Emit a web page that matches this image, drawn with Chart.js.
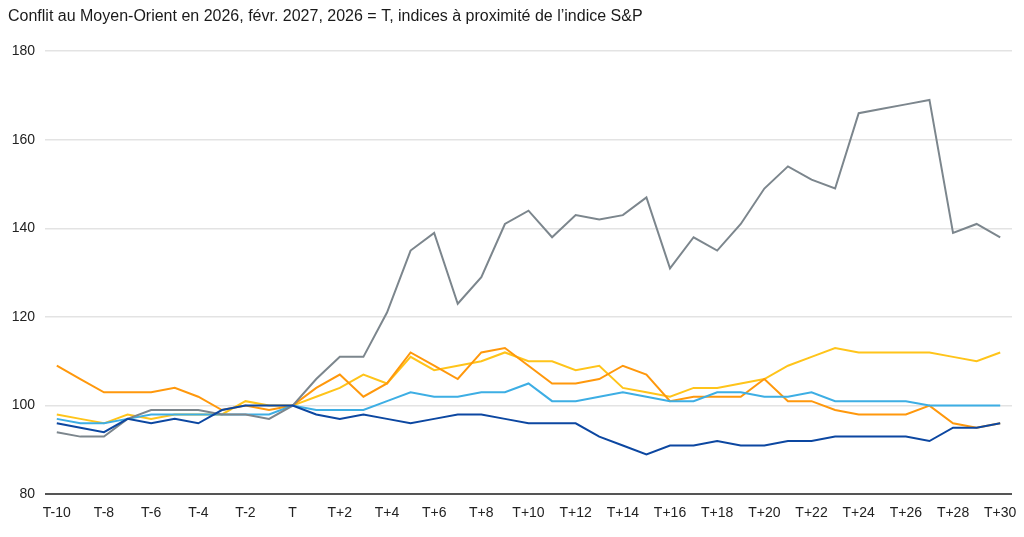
<!DOCTYPE html>
<html>
<head>
<meta charset="utf-8">
<script src="https://cdn.jsdelivr.net/npm/chart.js@4/dist/chart.umd.min.js"></script>
<style>
	html, body { margin: 0; padding: 0; background: #fff; }
	#wrap { width: 1024px; height: 537px; }
</style>
</head>
<body>
<div id="wrap"><canvas id="myChart" width="1024" height="537"></canvas></div>
<script>
var titleText = 'Conflit au Moyen-Orient en 2026, févr. 2027, 2026 = T, indices à proximité de l’indice S&P';

var labels = ['T-10', 'T-9', 'T-8', 'T-7', 'T-6', 'T-5', 'T-4', 'T-3', 'T-2', 'T-1', 'T',
	'T+1', 'T+2', 'T+3', 'T+4', 'T+5', 'T+6', 'T+7', 'T+8', 'T+9', 'T+10',
	'T+11', 'T+12', 'T+13', 'T+14', 'T+15', 'T+16', 'T+17', 'T+18', 'T+19', 'T+20',
	'T+21', 'T+22', 'T+23', 'T+24', 'T+25', 'T+26', 'T+27', 'T+28', 'T+29', 'T+30'];

var grayVals = [94, 93, 93, 97, 99, 99, 99, 98, 98, 97, 100,
	106, 111, 111, 121, 135, 139, 123, 129, 141, 144,
	138, 143, 142, 143, 147, 131, 138, 135, 141, 149,
	154, 151, 149, 166, 167, 168, 169, 139, 141, 138];

var darkBlueVals = [96, 95, 94, 97, 96, 97, 96, 99, 100, 100, 100,
	98, 97, 98, 97, 96, 97, 98, 98, 97, 96,
	96, 96, 93, 91, 89, 91, 91, 92, 91, 91,
	92, 92, 93, 93, 93, 93, 92, 95, 95, 96];

var lightBlueVals = [97, 96, 96, 97, 98, 98, 98, 98, 98, 98, 100,
	99, 99, 99, 101, 103, 102, 102, 103, 103, 105,
	101, 101, 102, 103, 102, 101, 101, 103, 103, 102,
	102, 103, 101, 101, 101, 101, 100, 100, 100, 100];

var orangeVals = [109, 106, 103, 103, 103, 104, 102, 99, 100, 99, 100,
	104, 107, 102, 105, 112, 109, 106, 112, 113, 109,
	105, 105, 106, 109, 107, 101, 102, 102, 102, 106,
	101, 101, 99, 98, 98, 98, 100, 96, 95, 96];

var yellowVals = [98, 97, 96, 98, 97, 98, 98, 98, 101, 100, 100,
	102, 104, 107, 105, 111, 108, 109, 110, 112, 110,
	110, 108, 109, 104, 103, 102, 104, 104, 105, 106,
	109, 111, 113, 112, 112, 112, 112, 111, 110, 112];

var yTicks = [80, 100, 120, 140, 160, 180];

function line(data, color) {
	return {
		data: data,
		borderColor: color,
		backgroundColor: color,
		borderWidth: 2,
		pointRadius: 0,
		tension: 0,
		fill: false
	};
}

Chart.defaults.font.family = '"Liberation Sans", Arial, sans-serif';
Chart.defaults.color = '#222';

var myChart = new Chart(document.getElementById('myChart'), {
	type: 'line',
	data: {
		labels: labels,
		// first dataset is drawn on top
		datasets: [
			line(darkBlueVals, '#0c47a1'),
			line(grayVals, '#7c868d'),
			line(lightBlueVals, '#3daee4'),
			line(orangeVals, '#ff980c'),
			line(yellowVals, '#ffc41a')
		]
	},
	options: {
		responsive: false,
		animation: false,
		layout: { padding: { left: 8, right: 12, top: 7, bottom: 4 } },
		plugins: {
			legend: { display: false },
			tooltip: { enabled: false },
			title: {
				display: true,
				text: titleText,
				align: 'start',
				color: '#1a1a1a',
				font: { size: 16, weight: 'normal' },
				padding: { top: 0, bottom: 25 }
			}
		},
		scales: {
			x: {
				offset: true,
				afterFit: function (axis) {
					// the offset already leaves room for the end labels
					axis.paddingLeft = 0;
					axis.paddingRight = 0;
				},
				grid: { display: false, drawTicks: false },
				border: { display: false },
				ticks: {
					autoSkip: false,
					maxRotation: 0,
					padding: 11,
					font: { size: 14 },
					color: '#222',
					callback: function (v, i) {
						return i % 2 === 0 ? labels[i] : '';
					}
				}
			},
			y: {
				min: 80,
				max: 180,
				afterBuildTicks: function (axis) {
					axis.ticks = yTicks.map(function (v) { return { value: v }; });
				},
				afterFit: function (axis) {
					axis.width = 37; // grid starts near x=45
				},
				border: { display: false },
				grid: {
					drawTicks: false,
					color: function (ctx) {
						return ctx.tick && ctx.tick.value === 80 ? '#555' : '#e3e3e3';
					},
					lineWidth: function (ctx) {
						return ctx.tick && ctx.tick.value === 80 ? 2 : 1.5;
					}
				},
				ticks: {
					padding: 10,
					font: { size: 14 },
					color: '#222'
				}
			}
		}
	}
});
</script>
</body>
</html>
